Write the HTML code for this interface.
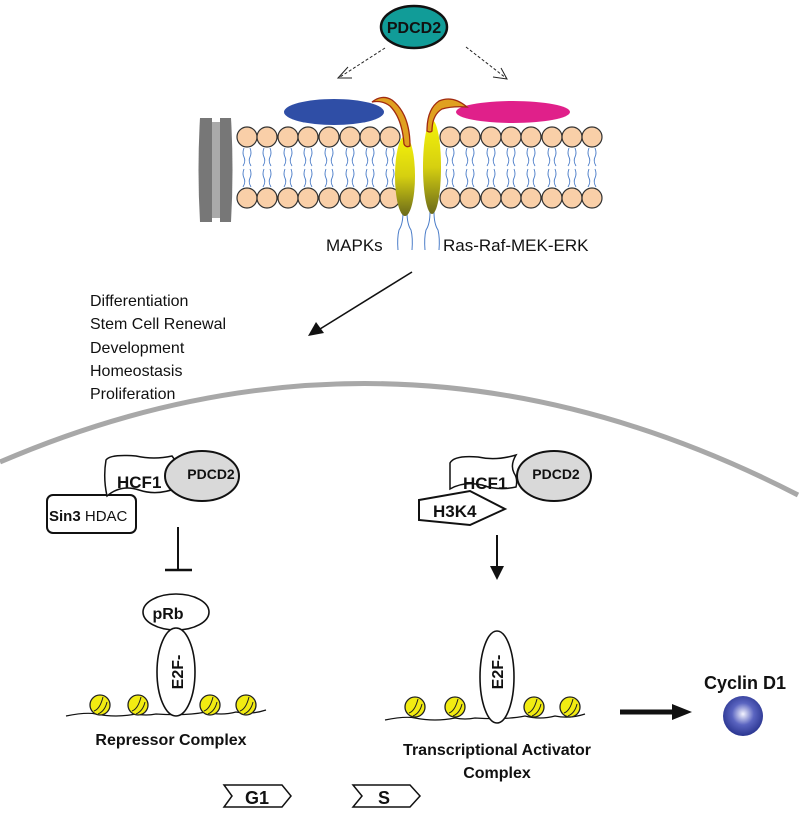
<!DOCTYPE html>
<html><head><meta charset="utf-8"><style>
html,body{margin:0;padding:0;background:#fff;}
svg{display:block;font-family:"Liberation Sans",Arial,sans-serif;}
</style></head><body>
<svg width="800" height="813" viewBox="0 0 800 813" xmlns="http://www.w3.org/2000/svg">
<defs>
<linearGradient id="yg" x1="0" y1="0" x2="0" y2="1"><stop offset="0" stop-color="#f4f20a"/><stop offset="0.5" stop-color="#d6d010"/><stop offset="1" stop-color="#6b6a1a"/></linearGradient>
<radialGradient id="sg" cx="0.5" cy="0.45" r="0.55"><stop offset="0" stop-color="#f4f4ff"/><stop offset="0.5" stop-color="#5a64c0"/><stop offset="1" stop-color="#2a3590"/></radialGradient>
<g id="tail"><path d="M-3,0 q-2,5 0,9 q2,4 -1,9 M3,0 q2,5 0,9 q-2,4 1,9" fill="none" stroke="#4a7cc8" stroke-width="0.9"/></g>
<g id="nuc"><circle r="10" fill="#f2ec12" stroke="#222" stroke-width="1.3"/><path d="M-6,6 q6,-2 9,-14 M-2,9 q7,-3 9,-12" fill="none" stroke="#222" stroke-width="1"/></g>
</defs>

<ellipse cx="414" cy="27" rx="33" ry="21" fill="#119c98" stroke="#111" stroke-width="2.5"/>
<text x="414" y="33" text-anchor="middle" font-size="16" font-weight="bold" fill="#111">PDCD2</text>
<line x1="385" y1="48" x2="340" y2="77" stroke="#222" stroke-width="1" stroke-dasharray="3,2"/>
<polyline points="348,67 338,78 352,78" fill="none" stroke="#222" stroke-width="1"/>
<line x1="466" y1="47" x2="506" y2="78" stroke="#222" stroke-width="1" stroke-dasharray="3,2"/>
<polyline points="493,77 507,79 501,68" fill="none" stroke="#222" stroke-width="1"/>

<g fill="#f9cfa8" stroke="#333" stroke-width="1.2">
<circle cx="247" cy="137" r="10"/><circle cx="267" cy="137" r="10"/><circle cx="288" cy="137" r="10"/><circle cx="308" cy="137" r="10"/><circle cx="329" cy="137" r="10"/><circle cx="350" cy="137" r="10"/><circle cx="370" cy="137" r="10"/><circle cx="390" cy="137" r="10"/>
<circle cx="450" cy="137" r="10"/><circle cx="470" cy="137" r="10"/><circle cx="491" cy="137" r="10"/><circle cx="511" cy="137" r="10"/><circle cx="531" cy="137" r="10"/><circle cx="552" cy="137" r="10"/><circle cx="572" cy="137" r="10"/><circle cx="592" cy="137" r="10"/>
<circle cx="247" cy="198" r="10"/><circle cx="267" cy="198" r="10"/><circle cx="288" cy="198" r="10"/><circle cx="308" cy="198" r="10"/><circle cx="329" cy="198" r="10"/><circle cx="350" cy="198" r="10"/><circle cx="370" cy="198" r="10"/><circle cx="390" cy="198" r="10"/>
<circle cx="450" cy="198" r="10"/><circle cx="470" cy="198" r="10"/><circle cx="491" cy="198" r="10"/><circle cx="511" cy="198" r="10"/><circle cx="531" cy="198" r="10"/><circle cx="552" cy="198" r="10"/><circle cx="572" cy="198" r="10"/><circle cx="592" cy="198" r="10"/>
</g>
<g>
<use href="#tail" x="247" y="148"/><use href="#tail" x="267" y="148"/><use href="#tail" x="288" y="148"/><use href="#tail" x="308" y="148"/><use href="#tail" x="329" y="148"/><use href="#tail" x="350" y="148"/><use href="#tail" x="370" y="148"/><use href="#tail" x="390" y="148"/>
<use href="#tail" x="450" y="148"/><use href="#tail" x="470" y="148"/><use href="#tail" x="491" y="148"/><use href="#tail" x="511" y="148"/><use href="#tail" x="531" y="148"/><use href="#tail" x="552" y="148"/><use href="#tail" x="572" y="148"/><use href="#tail" x="592" y="148"/>
<use href="#tail" x="247" y="169"/><use href="#tail" x="267" y="169"/><use href="#tail" x="288" y="169"/><use href="#tail" x="308" y="169"/><use href="#tail" x="329" y="169"/><use href="#tail" x="350" y="169"/><use href="#tail" x="370" y="169"/><use href="#tail" x="390" y="169"/>
<use href="#tail" x="450" y="169"/><use href="#tail" x="470" y="169"/><use href="#tail" x="491" y="169"/><use href="#tail" x="511" y="169"/><use href="#tail" x="531" y="169"/><use href="#tail" x="552" y="169"/><use href="#tail" x="572" y="169"/><use href="#tail" x="592" y="169"/>
</g>
<path d="M200,118 h12 v104 h-12 q-3,-52 0,-104z" fill="#777"/>
<rect x="212" y="122" width="8" height="96" fill="#aaa"/>
<path d="M220,118 h11 q3,52 0,104 h-11z" fill="#777"/>

<ellipse cx="334" cy="112" rx="50" ry="13" fill="#2f4ea6"/>
<ellipse cx="513" cy="112" rx="57" ry="11" fill="#e0208a"/>

<path d="M403,212 q0,12 -4,18 q-2,8 -1,20 M407,212 q0,12 4,18 q2,8 1,20" fill="none" stroke="#4a7cc8" stroke-width="1"/>
<path d="M430,212 q0,12 -4,18 q-2,8 -1,20 M434,212 q0,12 4,18 q2,8 1,20" fill="none" stroke="#4a7cc8" stroke-width="1"/>
<ellipse cx="405" cy="176" rx="10" ry="40" fill="url(#yg)"/>
<ellipse cx="432" cy="167" rx="9" ry="47" fill="url(#yg)"/>
<path d="M372,102 q10,-8 20,-2 q18,14 18,46 q-4,2 -6,-2 q-2,-26 -14,-38 q-8,-6 -18,-4z" fill="#e0a020" stroke="#a02a10" stroke-width="1.3"/>
<path d="M467,107 q-14,-12 -28,-6 q-12,8 -12,30 q3,2 5,0 q0,-16 10,-22 q10,-3 25,-2z" fill="#e0a020" stroke="#a02a10" stroke-width="1.3"/>

<text x="326" y="251" font-size="17" fill="#111">MAPKs</text>
<text x="443" y="251" font-size="17" fill="#111">Ras-Raf-MEK-ERK</text>

<line x1="412" y1="272" x2="320" y2="329" stroke="#111" stroke-width="1.6"/>
<polygon points="308,336 316,322 324,333" fill="#111"/>

<g font-size="16" fill="#111">
<text x="90" y="306">Differentiation</text>
<text x="90" y="329">Stem Cell Renewal</text>
<text x="90" y="353">Development</text>
<text x="90" y="376">Homeostasis</text>
<text x="90" y="399">Proliferation</text>
</g>

<path d="M0,462 Q400,290 798,495" fill="none" stroke="#a8a8a8" stroke-width="5"/>

<rect x="47" y="495" width="89" height="38" rx="6" fill="#fff" stroke="#111" stroke-width="2"/>
<text x="49" y="521" font-size="15" fill="#111"><tspan font-weight="bold">Sin3</tspan> HDAC</text>
<path d="M106,460 q4,-6 30,-4 q18,4 36,0 l3,4 q-4,14 2,28 q-20,8 -38,2 q-18,-6 -32,6 q-4,-18 -1,-36z" fill="#fff" stroke="#111" stroke-width="1.5"/>
<text x="117" y="488" font-size="17" font-weight="bold" fill="#111">HCF1</text>
<ellipse cx="202" cy="476" rx="37" ry="25" fill="#d9d9d9" stroke="#111" stroke-width="2"/>
<text x="211" y="479" text-anchor="middle" font-size="14" font-weight="bold" fill="#111">PDCD2</text>
<line x1="178" y1="527" x2="178" y2="570" stroke="#111" stroke-width="2"/>
<line x1="165" y1="570" x2="192" y2="570" stroke="#111" stroke-width="2.5"/>

<path d="M66,716 q20,-4 30,-2 q20,4 40,0 q10,2 20,0 q30,2 50,-2 q15,4 30,0 q15,3 30,-2" fill="none" stroke="#111" stroke-width="1.2"/>
<ellipse cx="176" cy="612" rx="33" ry="18" fill="#fff" stroke="#111" stroke-width="1.6"/>
<text x="168" y="619" text-anchor="middle" font-size="16" font-weight="bold" fill="#111">pRb</text>
<ellipse cx="176" cy="672" rx="19" ry="44" fill="#fff" stroke="#111" stroke-width="1.6"/>
<text transform="translate(183,672) rotate(-90)" text-anchor="middle" font-size="16" font-weight="bold" fill="#111">E2F-</text>
<use href="#nuc" x="100" y="705"/><use href="#nuc" x="138" y="705"/><use href="#nuc" x="210" y="705"/><use href="#nuc" x="246" y="705"/>
<text x="171" y="745" text-anchor="middle" font-size="16" font-weight="bold" fill="#111">Repressor Complex</text>

<path d="M450,463 q4,-8 28,-6 q18,4 38,-2 q-6,10 -2,18 q4,6 2,14 q-18,4 -34,-2 q-18,-4 -32,4z" fill="#fff" stroke="#111" stroke-width="1.5"/>
<text x="463" y="489" font-size="17" font-weight="bold" fill="#111">HCF1</text>
<ellipse cx="554" cy="476" rx="37" ry="25" fill="#d9d9d9" stroke="#111" stroke-width="2"/>
<text x="556" y="479" text-anchor="middle" font-size="14" font-weight="bold" fill="#111">PDCD2</text>
<polygon points="419,500 470,491 505,509 470,525 419,520" fill="#fff" stroke="#111" stroke-width="2"/>
<text x="433" y="517" font-size="17" font-weight="bold" fill="#111">H3K4</text>
<line x1="497" y1="535" x2="497" y2="568" stroke="#111" stroke-width="2"/>
<polygon points="490,566 504,566 497,580" fill="#111"/>

<path d="M385,720 q20,-4 30,-2 q20,4 40,0 q10,2 20,0 q30,2 50,-2 q15,4 30,0 q15,3 30,-2" fill="none" stroke="#111" stroke-width="1.2"/>
<ellipse cx="497" cy="677" rx="17" ry="46" fill="#fff" stroke="#111" stroke-width="1.6"/>
<text transform="translate(503,672) rotate(-90)" text-anchor="middle" font-size="16" font-weight="bold" fill="#111">E2F-</text>
<use href="#nuc" x="415" y="707"/><use href="#nuc" x="455" y="707"/><use href="#nuc" x="534" y="707"/><use href="#nuc" x="570" y="707"/>
<text x="497" y="755" text-anchor="middle" font-size="16" font-weight="bold" fill="#111">Transcriptional Activator</text>
<text x="497" y="778" text-anchor="middle" font-size="16" font-weight="bold" fill="#111">Complex</text>

<line x1="620" y1="712" x2="675" y2="712" stroke="#111" stroke-width="5"/>
<polygon points="672,704 692,712 672,720" fill="#111"/>
<text x="745" y="689" text-anchor="middle" font-size="18" font-weight="bold" fill="#111">Cyclin D1</text>
<circle cx="743" cy="716" r="20" fill="url(#sg)"/>

<polygon points="224,785 282,785 291,796 282,807 224,807 232,796" fill="#fff" stroke="#111" stroke-width="1.5"/>
<text x="257" y="804" text-anchor="middle" font-size="18" font-weight="bold" fill="#111">G1</text>
<polygon points="353,785 410,785 420,796 410,807 353,807 362,796" fill="#fff" stroke="#111" stroke-width="1.5"/>
<text x="384" y="804" text-anchor="middle" font-size="18" font-weight="bold" fill="#111">S</text>
</svg>
</body></html>
